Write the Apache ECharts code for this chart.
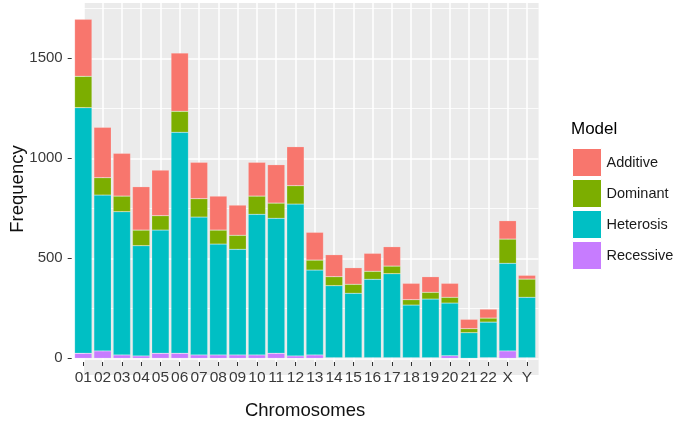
<!DOCTYPE html>
<html>
<head>
<meta charset="utf-8">
<script src="https://cdn.jsdelivr.net/npm/echarts@6/dist/echarts.min.js"></script>
<style>
html,body{margin:0;padding:0;background:#fff;}
#chart{width:685px;height:425px;}
</style>
</head>
<body>
<div id="chart"></div>
<script>
var categories = ['01','02','03','04','05','06','07','08','09','10','11','12','13','14','15','16','17','18','19','20','21','22','X','Y'];
var recessive = [25,37,17,12,25,25,17,17,17,17,25,12,17,3,3,3,3,3,3,13,0,3,37,3];
var heterosis = [1228,779,716,551,616,1105,689,554,528,703,675,759,424,360,322,392,420,263,293,263,128,178,438,302];
var dominant = [157,87,78,78,72,105,92,70,70,91,76,92,50,45,45,40,38,27,34,29,20,20,121,91];
var additive = [285,252,214,217,228,291,182,170,151,169,192,195,139,110,83,90,97,82,78,70,47,45,92,19];
var yTicksMajor = [0, 1500, 500];
var yTicksMinor = [250, 1750, 500];
var legendOrder = ['Additive','Dominant','Heterosis','Recessive'];
var colors = {Additive:'#F8766D', Dominant:'#7CAE00', Heterosis:'#00BFC4', Recessive:'#C77CFF'};

var FONT = 'Liberation Sans, Arial, sans-serif';
var chart = echarts.init(document.getElementById('chart'), null, {renderer:'canvas'});

var panelLeft = 71.7, panelTop = 3, panelW = 466.9, panelH = 372;
var y0 = 358.3, pxPerUnit = 0.2;
var band = 19.29;

function mkBar(name, data){
  return {
    name: name, type: 'bar', stack: 'all', xAxisIndex: 4, yAxisIndex: 4,
    data: data, barWidth: '90%',
    itemStyle: {color: colors[name], borderColor: 'rgba(255,255,255,0.35)', borderWidth: 0.5},
    emphasis: {disabled: true}
  };
}

var option = {
  animation: false,
  backgroundColor: '#FFFFFF',
  title: {
    text: 'Model', left: 566, top: 116,
    textStyle: {fontFamily: FONT, fontSize: 17, fontWeight: 'normal', color: '#000'}
  },
  legend: {
    orient: 'vertical', left: 567, top: 143,
    itemWidth: 29, itemHeight: 28, itemGap: 2,
    icon: 'rect',
    data: legendOrder,
    itemStyle: {borderColor: '#FFFFFF', borderWidth: 1},
    textStyle: {fontFamily: FONT, fontSize: 14.5, color: '#1A1A1A'}
  },
  grid: [
    {left: panelLeft, top: panelTop, width: panelW, height: panelH, show: true, backgroundColor: '#EBEBEB', borderWidth: 0},
    {left: panelLeft, top: y0 - 1750*pxPerUnit, width: panelW, height: 1500*pxPerUnit},
    {left: panelLeft, top: y0 - 1500*pxPerUnit, width: panelW, height: 1500*pxPerUnit},
    {left: panelLeft + 0.6*band, top: panelTop, width: 23*band, height: panelH},
    {left: panelLeft + 0.1*band, top: y0 - 1750*pxPerUnit, width: 24*band, height: 1750*pxPerUnit}
  ],
  xAxis: [
    {gridIndex: 0, type: 'value', show: false},
    {gridIndex: 1, type: 'value', show: false},
    {gridIndex: 2, type: 'value', show: false},
    {gridIndex: 3, type: 'category', data: categories, boundaryGap: false,
      axisLine: {show: false},
      axisTick: {show: true, length: 4, lineStyle: {color: '#333333', width: 1}},
      axisLabel: {show: true, interval: 0, margin: 8, fontFamily: FONT, fontSize: 15.5, color: '#3A3A3A'},
      splitLine: {show: true, lineStyle: {color: '#FFFFFF', width: 1.5}},
      name: 'Chromosomes', nameLocation: 'middle', nameGap: 39,
      nameTextStyle: {fontFamily: FONT, fontSize: 18.5, color: '#111'}
    },
    {gridIndex: 4, type: 'category', data: categories, boundaryGap: true, show: false}
  ],
  yAxis: [
    {gridIndex: 0, type: 'value', min: 0, max: 1,
      axisLine: {show: false}, axisTick: {show: false}, axisLabel: {show: false}, splitLine: {show: false},
      name: 'Frequency', nameLocation: 'middle', nameGap: 57,
      nameTextStyle: {fontFamily: FONT, fontSize: 18.5, color: '#111'}
    },
    {gridIndex: 1, type: 'value', min: yTicksMinor[0], max: yTicksMinor[1], interval: yTicksMinor[2],
      axisLine: {show: false}, axisTick: {show: false}, axisLabel: {show: false},
      splitLine: {show: true, lineStyle: {color: '#FFFFFF', width: 0.8}}
    },
    {gridIndex: 2, type: 'value', min: yTicksMajor[0], max: yTicksMajor[1], interval: yTicksMajor[2],
      axisLine: {show: false},
      axisTick: {show: true, length: 4, lineStyle: {color: '#333333', width: 1}},
      axisLabel: {show: true, margin: 9, fontFamily: FONT, fontSize: 15, color: '#3A3A3A',
        formatter: function(v){ return String(v); }},
      splitLine: {show: true, lineStyle: {color: '#FFFFFF', width: 1.5}}
    },
    {gridIndex: 3, type: 'value', show: false},
    {gridIndex: 4, type: 'value', min: 0, max: 1750, show: false}
  ],
  series: [
    mkBar('Recessive', recessive),
    mkBar('Heterosis', heterosis),
    mkBar('Dominant', dominant),
    mkBar('Additive', additive)
  ]
};
chart.setOption(option);
</script>
</body>
</html>
